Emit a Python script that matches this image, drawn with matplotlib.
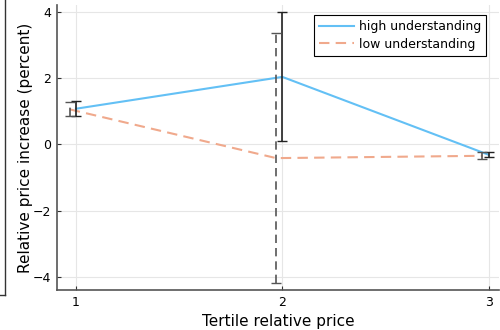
import numpy as np
import matplotlib
matplotlib.use("Agg")
import matplotlib.pyplot as plt
from matplotlib.lines import Line2D

# data
tertile = [1, 2, 3]
high_mean = [1.07, 2.03, -0.32]
high_lo = [0.85, 0.10, -0.40]
high_hi = [1.30, 3.98, -0.24]

low_shift = -0.03
low_mean = [1.05, -0.42, -0.35]
low_lo = [0.85, -4.20, -0.45]
low_hi = [1.27, 3.36, -0.25]

xticks = [1, 2, 3]
yticks = [-4, -2, 0, 2, 4]

plt.rcParams['font.family'] = ['DejaVu Sans']

fig = plt.figure(figsize=(5, 3.3), dpi=100)
ax = fig.add_axes([0.114, 0.121, 0.884, 0.864])

xh = np.array(tertile, dtype=float)
xl = xh + low_shift
hm = np.array(high_mean)
lm = np.array(low_mean)

ax.plot(xh, hm, color='#63C0F5', lw=1.5, label='high understanding', zorder=3)
ax.plot(xl, lm, color='#F0A98C', lw=1.5, ls=(0, (5, 3)), label='low understanding', zorder=3)

ax.errorbar(xh, hm, yerr=[hm - np.array(high_lo), np.array(high_hi) - hm],
            fmt='none', ecolor='#222222', elinewidth=1.2, capsize=3.5, capthick=1.0, zorder=4)
eb = ax.errorbar(xl, lm, yerr=[lm - np.array(low_lo), np.array(low_hi) - lm],
                 fmt='none', ecolor='#555555', elinewidth=1.2, capsize=3.5, capthick=1.0, zorder=4)
eb[2][0].set_linestyle((0, (5, 3)))

ax.set_xlim(0.908, 3.05)
ax.set_ylim(-4.4, 4.2)
ax.set_xticks(xticks)
ax.set_yticks(yticks)
ax.set_yticklabels(['\u22124', '\u22122', '0', '2', '4'])
ax.grid(True, color='#e6e6e6', lw=0.8)
ax.set_axisbelow(True)
for s in ['top', 'right']:
    ax.spines[s].set_visible(False)
for s in ['left', 'bottom']:
    ax.spines[s].set_color('#555555')
    ax.spines[s].set_linewidth(1.2)
ax.tick_params(direction='in', length=3, labelsize=9, color='#333333', pad=4)

ax.set_xlabel('Tertile relative price', fontsize=11, labelpad=4)
ax.set_ylabel('Relative price increase (percent)', fontsize=11, labelpad=0)

leg = ax.legend(loc='upper right', fontsize=9, frameon=True, fancybox=False,
                edgecolor='black', framealpha=1, handlelength=2.8,
                borderpad=0.4, labelspacing=0.35, handletextpad=0.4,
                bbox_to_anchor=(0.985, 0.985))
leg.get_frame().set_linewidth(0.8)

# partial box visible at the left edge of the reference
fig.add_artist(Line2D([0.010, 0.010], [0.105, 1.0], color='#333333', lw=1.0))
fig.add_artist(Line2D([0.0, 0.010], [0.105, 0.105], color='#333333', lw=1.0))

fig.savefig('out.png', dpi=100)
